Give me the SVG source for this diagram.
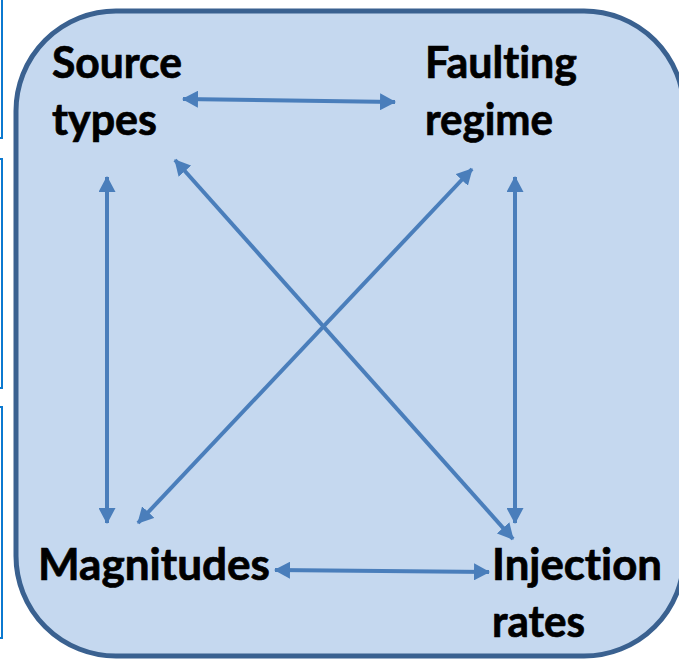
<svg xmlns="http://www.w3.org/2000/svg" width="679" height="659" viewBox="0 0 679 659">
  <style>
    .lbl { font-family: "Lato", "Liberation Sans", sans-serif; font-weight: bold; font-size: 43px; fill: #000; stroke: #000; stroke-width: 0.7px; font-variant-ligatures: none; font-feature-settings: "liga" 0; }
    .conn { stroke: #4a7ebb; stroke-width: 4; fill: none; }
    .edge { stroke: #0b79d0; stroke-width: 2; fill: none; }
  </style>
  <defs>
    <marker id="ah" viewBox="0 0 16 17" refX="15" refY="8.5" markerWidth="16" markerHeight="17" markerUnits="userSpaceOnUse" orient="auto-start-reverse">
      <path d="M0,0 L16,8.5 L0,17 Z" fill="#4a7ebb"/>
    </marker>
  </defs>
  <rect width="679" height="659" fill="#ffffff"/>
  <g id="left-edges">
    <rect class="edge" x="-60" y="-10" width="62" height="148"/>
    <rect class="edge" x="-60" y="159" width="62" height="229"/>
    <rect class="edge" x="-60" y="407" width="62" height="231"/>
  </g>
  <g id="background">
    <rect x="16" y="11" width="668" height="645" rx="100" ry="100" fill="#c5d8ef" stroke="#3a6190" stroke-width="5"/>
  </g>
  <g id="connectors">
    <line class="conn" x1="183" y1="99" x2="395" y2="102" marker-start="url(#ah)" marker-end="url(#ah)"/>
    <line class="conn" x1="107" y1="177" x2="107" y2="523" marker-start="url(#ah)" marker-end="url(#ah)"/>
    <line class="conn" x1="515" y1="177" x2="515" y2="523" marker-start="url(#ah)" marker-end="url(#ah)"/>
    <line class="conn" x1="175" y1="160" x2="513" y2="539" marker-start="url(#ah)" marker-end="url(#ah)"/>
    <line class="conn" x1="472" y1="169" x2="138" y2="523" marker-start="url(#ah)" marker-end="url(#ah)"/>
    <line class="conn" x1="275" y1="570" x2="489" y2="572" marker-start="url(#ah)" marker-end="url(#ah)"/>
  </g>
  <g id="source-types">
    <text class="lbl" x="52" y="78" textLength="130" lengthAdjust="spacingAndGlyphs">Source</text>
    <text class="lbl" x="52" y="135" textLength="105" lengthAdjust="spacingAndGlyphs">types</text>
  </g>
  <g id="faulting-regime">
    <text class="lbl" x="425" y="78" textLength="152" lengthAdjust="spacingAndGlyphs">Faulting</text>
    <text class="lbl" x="425" y="135" textLength="128" lengthAdjust="spacingAndGlyphs">regime</text>
  </g>
  <g id="magnitudes">
    <text class="lbl" x="38" y="580" textLength="232" lengthAdjust="spacingAndGlyphs">Magnitudes</text>
  </g>
  <g id="injection-rates">
    <text class="lbl" x="492" y="580" textLength="170" lengthAdjust="spacingAndGlyphs">Injection</text>
    <text class="lbl" x="492" y="637" textLength="93" lengthAdjust="spacingAndGlyphs">rates</text>
  </g>
</svg>
